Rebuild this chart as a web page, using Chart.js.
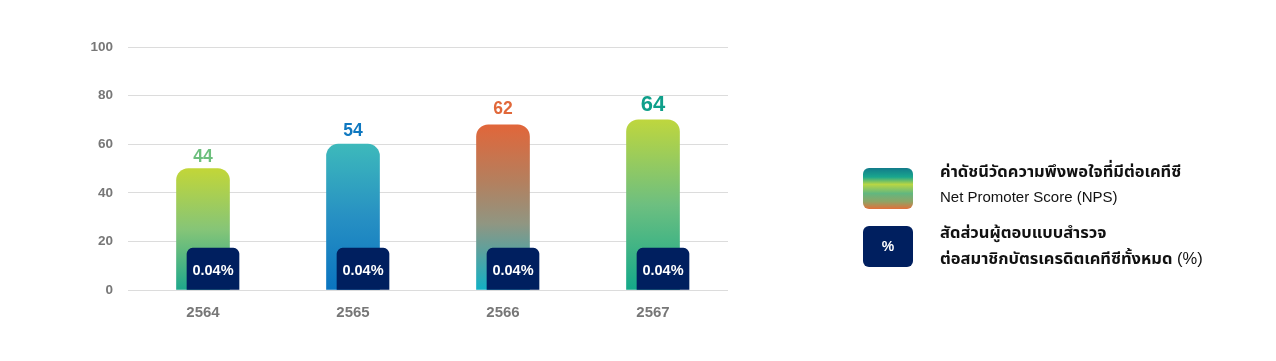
<!DOCTYPE html>
<html>
<head>
<meta charset="utf-8">
<script src="https://cdn.jsdelivr.net/npm/chart.js@4.4.1/dist/chart.umd.min.js"></script>
<style>
  html, body { margin:0; padding:0; background:#fff; }
  #wrap { position:relative; width:1276px; height:361px; }
  #chart { position:absolute; left:0; top:0; }
  .legend { position:absolute; left:863px; font-family:"Liberation Sans", Arial, "Noto Sans Thai", "Noto Sans", sans-serif; color:#111; }
  .item { position:absolute; left:0; width:360px; height:44px; }
  .sw { position:absolute; left:0; top:0; width:50px; height:41px; border-radius:6px; }
  .sw1 { background:linear-gradient(to bottom, #127b8a 0%, #1aa68e 22%, #b8d644 40%, #62b77f 62%, #8fa466 82%, #e2703a 100%); }
  .sw2 { background:#001f5f; color:#fff; font-weight:bold; font-size:14px; text-align:center; line-height:41px; }
  .t { position:absolute; left:77px; white-space:nowrap; line-height:20px; height:20px; }
  .th { font-size:16.5px; font-weight:bold; }
  .en { font-size:15px; }
  .rg { font-weight:normal; }
</style>
</head>
<body>
<div id="wrap">
  <canvas id="chart" width="1276" height="361"></canvas>
  <div class="legend" style="top:168px">
    <div class="item" style="top:0">
      <div class="sw sw1"></div>
      <div class="t th" style="top:-7px">ค่าดัชนีวัดความพึงพอใจที่มีต่อเคทีซี</div>
      <div class="t en" style="top:19px">Net Promoter Score (NPS)</div>
    </div>
    <div class="item" style="top:58px">
      <div class="sw sw2">%</div>
      <div class="t th" style="top:-4px">สัดส่วนผู้ตอบแบบสำรวจ</div>
      <div class="t th" style="top:22px">ต่อสมาชิกบัตรเครดิตเคทีซีทั้งหมด <span class="rg">(%)</span></div>
    </div>
  </div>
</div>
<script>
// ---- data ----
const years = ['2564', '2565', '2566', '2567'];
const npsScores = [44, 54, 62, 64];          // printed NPS labels
const npsBarHeights = [50, 60, 68, 70];       // drawn bar heights
const respondentShare = [17.2, 17.2, 17.2, 17.2]; // drawn box heights
const respondentLabels = ['0.04%', '0.04%', '0.04%', '0.04%'];
const yTicks = [0, 20, 40, 60, 80, 100];

// ---- styles ----
const barGradients = [
  [[0, '#c2d638'], [0.5, '#86c577'], [1, '#1ea88c']],
  [[0, '#3db9bb'], [0.5, '#2790c3'], [1, '#0a74c0']],
  [[0, '#e1663a'], [0.35, '#b3805f'], [0.6, '#909682'], [1, '#12b1c5']],
  [[0, '#bed63e'], [0.5, '#6dbf80'], [1, '#14a98a']]
];
const labelColors = ['#6cbf7d', '#0f78c0', '#e1683a', '#0f9f8a'];
const labelSizes = [17.5, 17.5, 17.5, 22];
const labelGaps = [7, 8, 11, 9];
const fontFam = '"Liberation Sans", Arial, sans-serif';

function gradFor(ctx) {
  const chart = ctx.chart;
  const area = chart.chartArea;
  const i = ctx.dataIndex;
  if (!area || i === undefined) return barGradients[0][0][1];
  const y = chart.scales.y;
  const top = y.getPixelForValue(npsBarHeights[i]);
  const bottom = y.getPixelForValue(0);
  const g = chart.ctx.createLinearGradient(0, top, 0, bottom);
  barGradients[i].forEach(s => g.addColorStop(s[0], s[1]));
  return g;
}

const BOX_SHIFT = 10;
const boxShift = {
  id: 'boxShift',
  beforeDatasetDraw(chart, args) {
    if (args.index === 0) { chart.ctx.save(); chart.ctx.translate(BOX_SHIFT, 0); }
  },
  afterDatasetDraw(chart, args) {
    if (args.index === 0) chart.ctx.restore();
  },
  afterDatasetsDraw(chart) {
    const ctx = chart.ctx;
    const npsMeta = chart.getDatasetMeta(1);
    const boxMeta = chart.getDatasetMeta(0);
    ctx.save();
    ctx.textAlign = 'center';
    npsMeta.data.forEach((bar, i) => {
      ctx.font = 'bold ' + labelSizes[i] + 'px ' + fontFam;
      ctx.fillStyle = labelColors[i];
      ctx.textBaseline = 'alphabetic';
      ctx.fillText(String(npsScores[i]), bar.x, bar.y - labelGaps[i]);
    });
    boxMeta.data.forEach((bar, i) => {
      ctx.font = 'bold 14.5px ' + fontFam;
      ctx.fillStyle = '#ffffff';
      ctx.textBaseline = 'middle';
      ctx.fillText(respondentLabels[i], bar.x + BOX_SHIFT, (bar.y + bar.base) / 2 + 2);
    });
    ctx.restore();
  }
};

new Chart(document.getElementById('chart'), {
  type: 'bar',
  data: {
    labels: years,
    datasets: [
      {
        label: 'สัดส่วนผู้ตอบแบบสำรวจ',
        data: respondentShare,
        backgroundColor: '#001f5f',
        borderRadius: { topLeft: 6, topRight: 6, bottomLeft: 0, bottomRight: 0 },
        borderSkipped: false,
        barThickness: 52,
        grouped: false
      },
      {
        label: 'Net Promoter Score (NPS)',
        data: npsBarHeights,
        backgroundColor: gradFor,
        borderRadius: { topLeft: 12, topRight: 12, bottomLeft: 0, bottomRight: 0 },
        borderSkipped: false,
        barThickness: 53,
        grouped: false
      }
    ]
  },
  options: {
    responsive: false,
    animation: false,
    layout: { padding: { left: 0, right: 548, top: 47, bottom: 0 } },
    plugins: { legend: { display: false }, tooltip: { enabled: false } },
    scales: {
      x: {
        grid: { display: false, drawTicks: false },
        border: { display: false },
        ticks: { color: '#777', font: { family: fontFam, size: 15, weight: 'bold' }, padding: 14 },
        afterFit: s => { s.height = 71; }
      },
      y: {
        min: 0, max: 100,
        afterBuildTicks: s => { s.ticks = yTicks.map(v => ({ value: v })); },
        grid: { color: '#dcdcdc', drawTicks: false, lineWidth: 1 },
        border: { display: false },
        ticks: { color: '#777', font: { family: fontFam, size: 13.5, weight: 'bold' }, padding: 15 },
        afterFit: s => { s.width = 128; }
      }
    }
  },
  plugins: [boxShift]
});
</script>
</body>
</html>
